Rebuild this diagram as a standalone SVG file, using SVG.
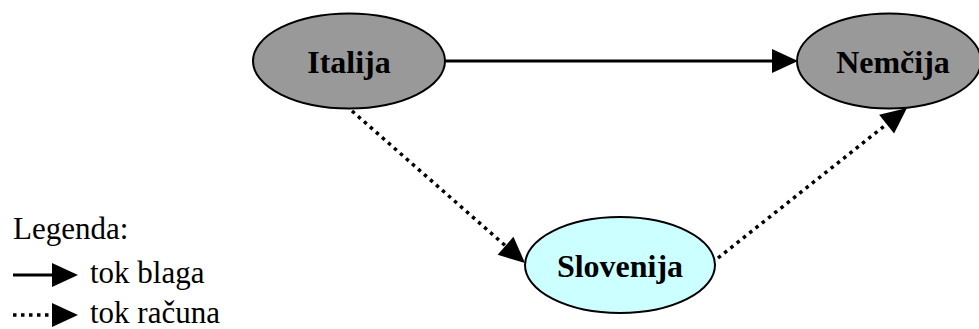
<svg xmlns="http://www.w3.org/2000/svg" width="979" height="329" viewBox="0 0 979 329">
<style>
.node ellipse{stroke:#000;stroke-width:2}
.grey{fill:#999999}
.cyan{fill:#CCFFFF}
.lbl{font-family:"Liberation Serif","Times New Roman",serif;font-weight:bold;font-size:32px;fill:#000;text-anchor:middle}
.leg{font-family:"Liberation Serif","Times New Roman",serif;font-size:31px;fill:#000}
.solid{stroke:#000;stroke-width:3;fill:none}
.dot{stroke:#000;stroke-width:3.5;fill:none;stroke-dasharray:3.5 4.5}
</style>
<defs>
<marker id="ah" markerUnits="userSpaceOnUse" markerWidth="27" markerHeight="25" refX="0" refY="12" orient="auto" overflow="visible">
<path d="M0,0 L26,12 L0,24 z" fill="#000"/>
</marker>
</defs>
<g id="connectors">
<line class="solid" x1="445" y1="61" x2="772" y2="61" marker-end="url(#ah)"/>
<line class="dot" x1="352" y1="111" x2="505.5" y2="245.8" marker-end="url(#ah)"/>
<line class="dot" x1="718" y1="258" x2="886.6" y2="124.2" marker-end="url(#ah)"/>
</g>
<g id="italija" class="node">
<ellipse class="grey" cx="349" cy="61" rx="96" ry="47.5"/>
<text class="lbl" x="349" y="73">Italija</text>
</g>
<g id="nemcija" class="node">
<ellipse class="grey" cx="889" cy="61" rx="92" ry="47.5"/>
<text class="lbl" x="893" y="73">Nemčija</text>
</g>
<g id="slovenija" class="node">
<ellipse class="cyan" cx="620" cy="265" rx="95" ry="48"/>
<text class="lbl" x="620" y="277">Slovenija</text>
</g>
<g id="legend">
<text class="leg" x="13" y="239">Legenda:</text>
<line class="solid" x1="13" y1="275" x2="52" y2="275" marker-end="url(#ah)"/>
<text class="leg" x="90" y="283">tok blaga</text>
<line class="dot" x1="13" y1="315" x2="52" y2="315" marker-end="url(#ah)"/>
<text class="leg" x="90" y="323">tok računa</text>
</g>
</svg>
